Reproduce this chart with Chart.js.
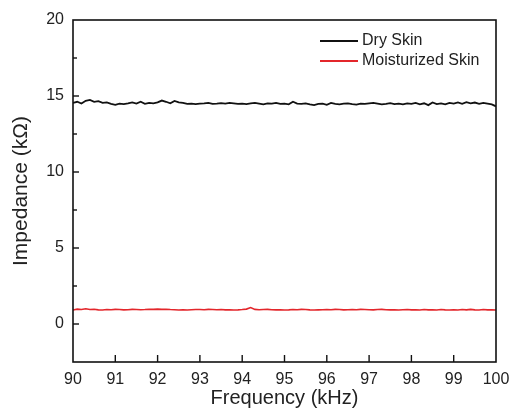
<!DOCTYPE html>
<html>
<head>
<meta charset="utf-8">
<script src="https://cdn.jsdelivr.net/npm/chart.js@4/dist/chart.umd.min.js"></script>
<style>
  html, body { margin: 0; padding: 0; background: #fff; }
  #wrap { width: 511px; height: 415px; }
</style>
</head>
<body>
<div id="wrap"><canvas id="chart-impedance"></canvas></div>
<script>
// frequency sweep 90 - 100 kHz, 0.1 kHz steps
const frequency = [];
for (let i = 0; i <= 100; i++) frequency.push(90 + i / 10);

// impedance in kOhm
const drySkin = [
  14.55, 14.62, 14.50, 14.68, 14.74, 14.62, 14.66, 14.55, 14.58, 14.48,
  14.42, 14.50, 14.47, 14.52, 14.58, 14.50, 14.62, 14.48, 14.55, 14.52,
  14.58, 14.70, 14.62, 14.52, 14.68, 14.58, 14.55, 14.48, 14.50, 14.47,
  14.50, 14.52, 14.55, 14.48, 14.50, 14.53, 14.50, 14.55, 14.52, 14.48,
  14.50, 14.47, 14.52, 14.55, 14.50, 14.45, 14.52, 14.50, 14.55, 14.48,
  14.50, 14.45, 14.62, 14.50, 14.48, 14.52, 14.45, 14.40, 14.48, 14.50,
  14.42, 14.55, 14.48, 14.45, 14.50, 14.52, 14.47, 14.43, 14.50, 14.48,
  14.52, 14.55, 14.50, 14.45, 14.48, 14.53, 14.47, 14.50, 14.45, 14.52,
  14.48, 14.55, 14.45, 14.52, 14.40, 14.58, 14.47, 14.52, 14.45, 14.55,
  14.50, 14.58, 14.48, 14.60, 14.52, 14.57, 14.48, 14.55, 14.50, 14.45,
  14.32
];
const moistSkin = [
  0.92, 0.98, 0.95, 1.00, 0.95, 0.97, 0.93, 0.92, 0.95, 0.94,
  0.96, 0.95, 0.93, 0.94, 0.96, 0.95, 0.94, 0.95, 0.97, 0.96,
  0.98, 0.96, 0.97, 0.95, 0.94, 0.92, 0.93, 0.92, 0.94, 0.95,
  0.95, 0.94, 0.96, 0.95, 0.94, 0.95, 0.93, 0.94, 0.92, 0.93,
  0.95, 0.98, 1.08, 0.96, 0.94, 0.95, 0.96, 0.94, 0.93, 0.94,
  0.92, 0.93, 0.95, 0.94, 0.96, 0.95, 0.93, 0.92, 0.93, 0.94,
  0.95, 0.94, 0.96, 0.95, 0.93, 0.94, 0.95, 0.94, 0.96, 0.95,
  0.94, 0.93, 0.95, 0.96, 0.94, 0.93, 0.94, 0.92, 0.94, 0.95,
  0.93, 0.94, 0.92, 0.95, 0.93, 0.94, 0.92, 0.95, 0.93, 0.92,
  0.94, 0.92, 0.95, 0.93, 0.96, 0.93, 0.92, 0.95, 0.93, 0.94,
  0.92
];
const seriesNames = ["Dry Skin", "Moisturized Skin"];
const seriesColors = ["#111111", "#e3262b"];

const pts = (ys) => ys.map((y, i) => ({ x: frequency[i], y: y }));

Chart.defaults.font.family = 'Arial, "Liberation Sans", sans-serif';
Chart.defaults.color = "#222";

// frame, inward ticks and legend
const frame = {
  id: "frame",
  afterDraw(chart) {
    const ctx = chart.ctx;
    const a = chart.chartArea;
    const xs = chart.scales.x, ys = chart.scales.y;
    ctx.save();
    ctx.strokeStyle = "#111";
    ctx.lineWidth = 1.6;
    ctx.strokeRect(a.left, a.top, a.right - a.left, a.bottom - a.top);

    ctx.lineWidth = 1.4;
    ys.ticks.forEach(t => {
      if (t.value <= ys.min || t.value >= ys.max) return;
      const py = ys.getPixelForValue(t.value);
      const len = t.value % 5 === 0 ? 6 : 4;
      ctx.beginPath();
      ctx.moveTo(a.left, py);
      ctx.lineTo(a.left + len, py);
      ctx.stroke();
    });
    xs.ticks.forEach(t => {
      if (t.value <= xs.min || t.value >= xs.max) return;
      const px = xs.getPixelForValue(t.value);
      ctx.beginPath();
      ctx.moveTo(px, a.bottom);
      ctx.lineTo(px, a.bottom - 7);
      ctx.stroke();
    });

    // legend
    ctx.font = '16px Arial, "Liberation Sans", sans-serif';
    ctx.textBaseline = "middle";
    ctx.fillStyle = "#222";
    chart.data.datasets.forEach((ds, i) => {
      const ly = a.top + 21 + i * 20;
      const lx = a.right - 176;
      ctx.strokeStyle = ds.borderColor;
      ctx.lineWidth = 1.8;
      ctx.beginPath();
      ctx.moveTo(lx, ly);
      ctx.lineTo(lx + 38, ly);
      ctx.stroke();
      ctx.fillText(ds.label, lx + 42, ly);
    });
    ctx.restore();
  }
};

new Chart(document.getElementById("chart-impedance"), {
  type: "line",
  data: {
    datasets: [
      {
        label: seriesNames[0],
        data: pts(drySkin),
        borderColor: seriesColors[0],
        borderWidth: 1.8,
        pointRadius: 0,
        tension: 0,
      },
      {
        label: seriesNames[1],
        data: pts(moistSkin),
        borderColor: seriesColors[1],
        borderWidth: 1.6,
        pointRadius: 0,
        tension: 0,
      },
    ],
  },
  options: {
    responsive: true,
    maintainAspectRatio: false,
    animation: false,
    layout: { padding: { left: 0, right: 15, top: 20, bottom: 0 } },
    plugins: {
      legend: { display: false },
      tooltip: { enabled: false },
    },
    scales: {
      x: {
        type: "linear",
        min: 90,
        max: 100,
        grid: { display: false, drawTicks: false },
        border: { display: false },
        ticks: { stepSize: 1, padding: 8, maxRotation: 0, font: { size: 16 } },
        title: {
          display: true,
          text: "Frequency (kHz)",
          font: { size: 20 },
          padding: { top: 0, bottom: 5 },
        },
        afterFit(scale) {
          scale.height = 53;
          scale.paddingLeft = 0;
          scale.paddingRight = 0;
        },
      },
      y: {
        min: -2.5,
        max: 20,
        grid: { display: false, drawTicks: false },
        border: { display: false },
        ticks: {
          stepSize: 2.5,
          padding: 9,
          font: { size: 16 },
          callback: (v) => (v % 5 === 0 && v >= 0 ? v : ""),
        },
        title: {
          display: true,
          text: "Impedance (kΩ)",
          font: { size: 21 },
          padding: { top: 9, bottom: 0 },
        },
        afterFit(scale) {
          scale.width = 73;
          scale.paddingTop = 0;
          scale.paddingBottom = 0;
        },
      },
    },
  },
  plugins: [frame],
});
</script>
</body>
</html>
